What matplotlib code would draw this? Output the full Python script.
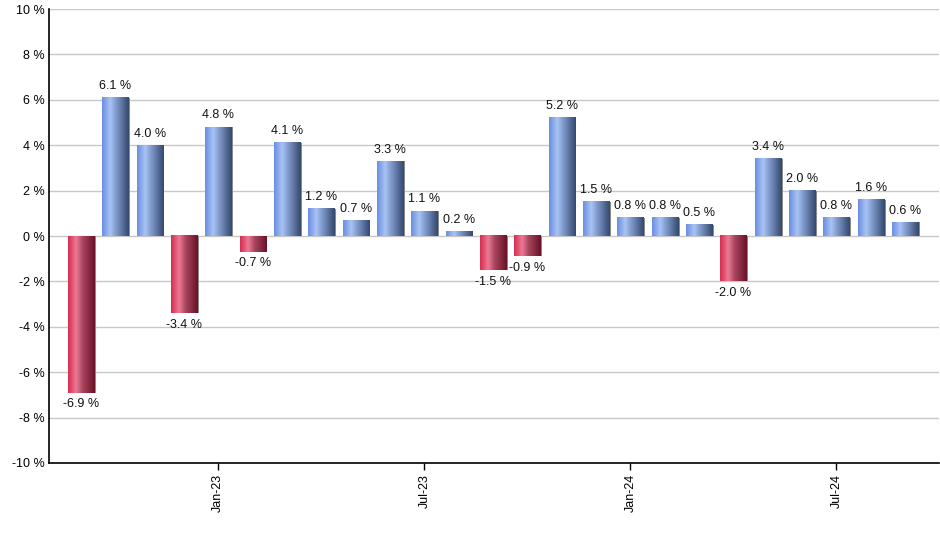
import numpy as np
import matplotlib
matplotlib.use("Agg")
import matplotlib.pyplot as plt
from matplotlib.colors import LinearSegmentedColormap

months = ["Sep-22", "Oct-22", "Nov-22", "Dec-22", "Jan-23", "Feb-23", "Mar-23", "Apr-23",
          "May-23", "Jun-23", "Jul-23", "Aug-23", "Sep-23", "Oct-23", "Nov-23", "Dec-23",
          "Jan-24", "Feb-24", "Mar-24", "Apr-24", "May-24", "Jun-24", "Jul-24", "Aug-24", "Sep-24"]
values = [-6.9, 6.1, 4.0, -3.4, 4.8, -0.7, 4.1, 1.2, 0.7, 3.3, 1.1, 0.2, -1.5, -0.9,
          5.2, 1.5, 0.8, 0.8, 0.5, -2.0, 3.4, 2.0, 0.8, 1.6, 0.6]
tick_labels = ["Jan-23", "Jul-23", "Jan-24", "Jul-24"]
y_ticks = [-10, -8, -6, -4, -2, 0, 2, 4, 6, 8, 10]

plt.rcParams['font.family'] = ['Liberation Sans', 'DejaVu Sans']

fig = plt.figure(figsize=(9.4, 5.5), dpi=100)
ax = fig.add_axes([0.0521, 0.1582, 0.947, 0.8254])

blue_cmap = LinearSegmentedColormap.from_list(
    "b", [(0.0, "#6a8fe2"), (0.3, "#a9c3f4"), (0.55, "#7d96c8"), (1.0, "#34496e")])
red_cmap = LinearSegmentedColormap.from_list(
    "r", [(0.0, "#d82c52"), (0.3, "#ec7a94"), (0.55, "#a8445e"), (1.0, "#6a1228")])

x = np.arange(len(values))
bars = ax.bar(x, values, width=0.76, color="none", edgecolor="none", zorder=3)

grad = np.linspace(0, 1, 64).reshape(1, -1)
for rect, v in zip(bars, values):
    x0 = rect.get_x()
    w = rect.get_width()
    y0 = rect.get_y()
    h = rect.get_height()
    cmap = blue_cmap if v >= 0 else red_cmap
    ylo, yhi = min(y0, y0 + h), max(y0, y0 + h)
    # shadow
    ax.fill_between([x0 + w, x0 + w + 0.05], ylo, yhi, color="#8a8a8a", lw=0, zorder=2.5)
    ax.imshow(grad, cmap=cmap, extent=[x0, x0 + w, ylo, yhi], aspect="auto",
              interpolation="bilinear", zorder=3)
    off = 4 if v >= 0 else -4
    ax.annotate(f"{v:.1f} %", (rect.get_x() + w / 2, v), xytext=(0, off),
                textcoords="offset points", ha="center",
                va="bottom" if v >= 0 else "top", fontsize=9, color="#111111", zorder=4)

ax.set_xlim(-0.93, len(values) - 0.01)
ax.set_ylim(-10, 10)
ax.set_yticks(y_ticks)
ax.set_yticklabels([f"{t} %" for t in y_ticks], fontsize=9)
ax.yaxis.grid(True, color="#c8c8c8", lw=1)
ax.set_axisbelow(True)

tick_pos = [months.index(t) for t in tick_labels]
ax.set_xticks(tick_pos)
ax.set_xticklabels(tick_labels, rotation=90, fontsize=9)
ax.tick_params(axis="y", length=0, pad=3)
ax.tick_params(axis="x", length=5, width=1, color="black", pad=3)

for s in ["top", "right"]:
    ax.spines[s].set_visible(False)
for s in ["left", "bottom"]:
    ax.spines[s].set_color("black")
    ax.spines[s].set_linewidth(1.2)

fig.savefig("out.png", dpi=100)
